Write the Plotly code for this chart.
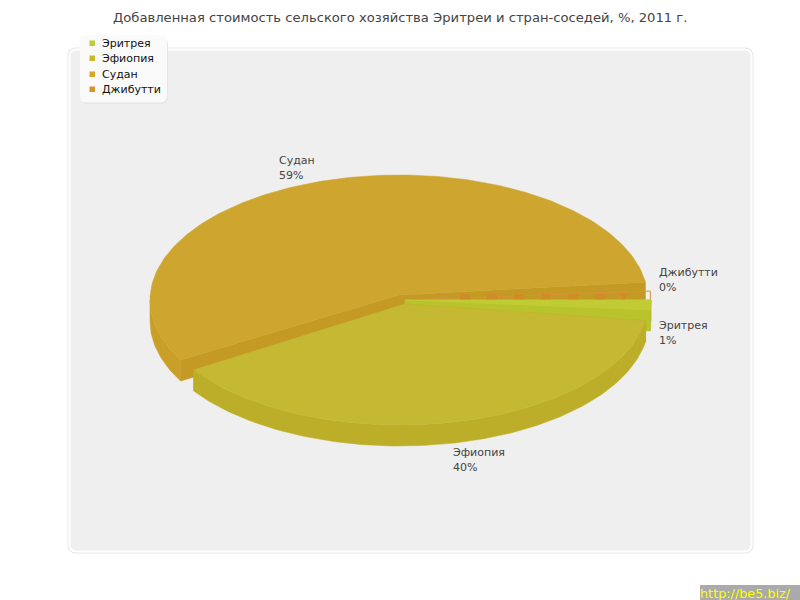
import math
import plotly.graph_objects as go

title = "Добавленная стоимость сельского хозяйства Эритреи и стран-соседей, %, 2011 г."
categories = ["Эритрея", "Эфиопия", "Судан", "Джибутти"]
# slice sizes as drawn in the picture (% of the circle); the slices are pulled apart,
# so the gaps between their rim ends are listed too
eritrea_share = 1.28
gap_eritrea_ethiopia = 1.36
ethiopia_share = 37.9
gap_ethiopia_sudan = 1.48
sudan_share = 55.7
djibouti_rim_angle = -4.1
percent_labels = ["1%", "40%", "59%", "0%"]
legend_colors = ["#c2cb32", "#c9b82a", "#d8a72a", "#d8922a"]
top_colors = ["#c1cc35", "#c5b832", "#cea52f", "#d8922a"]
side_colors = ["#b7c12b", "#bcae28", "#c99f27", "#d08a25"]
wall_colors = ["#b9c32c", "#bcae28", "#c49a25", "#d08a25"]

APEX = [(405, 300), (405, 304), (399, 295), (405, 300)]
RIM = [(402, 300), (400, 300), (399, 300), (402, 300)]
RX, RY, DEPTH = 249, 125, 21
LABEL_POS = [(659, 325), (453, 452), (279, 160), (659, 272)]

fig = go.Figure()


def rim(c, a0, a1):
    n = max(2, int(abs(a1 - a0)) + 2)
    pts = [a0 + (a1 - a0) * i / (n - 1) for i in range(n)]
    return ([c[0] + RX * math.cos(math.radians(a)) for a in pts],
            [c[1] + RY * math.sin(math.radians(a)) for a in pts])


def poly(xs, ys, color):
    fig.add_trace(go.Scatter(x=xs + xs[:1], y=ys + ys[:1], mode="lines", fill="toself",
                             fillcolor=color, line=dict(color=color, width=0.5),
                             hoverinfo="skip", showlegend=False))


def top(i, a0, a1):
    x, y = rim(RIM[i], a0, a1)
    poly([APEX[i][0]] + x, [APEX[i][1]] + y, top_colors[i])


def wedge(i, a0, a1):
    c = APEX[i]
    # cut faces
    for a in (a0, a1):
        rx, ry = rim(RIM[i], a, a)
        poly([c[0], rx[0], rx[0], c[0]], [c[1], ry[0], ry[0] + DEPTH, c[1] + DEPTH], wall_colors[i])
    # outer side (only the front half of the rim shows)
    lo, hi = max(a0, 0), min(a1, 180)
    if hi > lo:
        x, y = rim(RIM[i], lo, hi)
        poly(x + x[::-1], y + [v + DEPTH for v in y[::-1]], side_colors[i])
    top(i, a0, a1)


# angle limits from the shares, clockwise on screen from 3 o'clock
er0, er1 = 0.0, eritrea_share * 3.6
et0 = er1 + gap_eritrea_ethiopia * 3.6
et1 = et0 + ethiopia_share * 3.6
su0 = et1 + gap_ethiopia_sudan * 3.6
su1 = su0 + sudan_share * 3.6

# Sudan first, then Eritrea, then Ethiopia overlapping it
wedge(2, su0, su1)
wedge(0, er0, er1)

# Djibouti: nearly empty slice, only an outline and dashes show through
c = APEX[3]
xe, ye = rim(RIM[3], djibouti_rim_angle, djibouti_rim_angle)
xe, ye = xe[0], ye[0]
fig.add_trace(go.Scatter(x=[c[0], xe, xe], y=[c[1], ye, c[1]], mode="lines",
                         line=dict(color="#d8923a", width=1), hoverinfo="skip", showlegend=False))
fig.add_trace(go.Scatter(x=[c[0] + 55, xe - 25], y=[c[1] - 3, c[1] - 3], mode="lines",
                         line=dict(color="#d28a28", width=6, dash="10px,17px"),
                         opacity=0.8, hoverinfo="skip", showlegend=False))
top(0, er0, er1)
wedge(1, et0, et1)


def rrect(x0, y0, x1, y1, r):
    return (f"M{x0+r},{y0} L{x1-r},{y0} Q{x1},{y0} {x1},{y0+r} L{x1},{y1-r} Q{x1},{y1} {x1-r},{y1} "
            f"L{x0+r},{y1} Q{x0},{y1} {x0},{y1-r} L{x0},{y0+r} Q{x0},{y0} {x0+r},{y0} Z")


shapes = [
    dict(type="path", path=rrect(68, 48, 753, 553, 8), fillcolor="#efefef",
         line=dict(color="#e6e6e6", width=1), layer="below"),
    dict(type="path", path=rrect(69.5, 49.5, 751.5, 551.5, 7), fillcolor="#efefef",
         line=dict(color="#ffffff", width=2), layer="below"),
    dict(type="path", path=rrect(81, 37, 168, 104, 7), fillcolor="#e6e6e6",
         line=dict(width=0), layer="above"),
    dict(type="path", path=rrect(80, 35, 167, 102.5, 7), fillcolor="#fafafa",
         line=dict(width=0), layer="above"),
    dict(type="rect", x0=700, x1=800, y0=585, y1=600, fillcolor="#aaaaaa",
         line=dict(width=0), layer="above"),
]

annotations = [dict(x=400, y=17, text=title, showarrow=False, xanchor="center", yanchor="middle",
                    font=dict(family="DejaVu Sans", size=13.15, color="#444444"))]
for name, pct, (lx, ly) in zip(categories, percent_labels, LABEL_POS):
    for text, yy in ((name, ly), (pct, ly + 15)):
        annotations.append(dict(x=lx, y=yy, text=text, showarrow=False, xanchor="left",
                                yanchor="middle", xshift=-2,
                                font=dict(family="DejaVu Sans", size=11, color="#444444")))
legend_y = [43, 58, 74, 89]
for name, col, ly in zip(categories, legend_colors, legend_y):
    annotations.append(dict(x=102, y=ly, text=name, showarrow=False, xanchor="left", yanchor="middle",
                            xshift=-2, font=dict(family="DejaVu Sans", size=11, color="#111111")))
    shapes.append(dict(type="rect", x0=89.5, x1=95, y0=ly - 2.5, y1=ly + 3, fillcolor=col,
                       line=dict(width=0), layer="above"))
annotations.append(dict(x=700, y=593, text="http://be5.biz/", showarrow=False, xanchor="left",
                        yanchor="middle", xshift=-2,
                        font=dict(family="DejaVu Sans", size=12.8, color="#ffff00")))

fig.update_layout(
    width=800, height=600, margin=dict(l=0, r=0, t=0, b=0), autosize=False,
    paper_bgcolor="#ffffff", plot_bgcolor="#ffffff", showlegend=False,
    xaxis=dict(range=[0, 800], visible=False, fixedrange=True),
    yaxis=dict(range=[600, 0], visible=False, fixedrange=True),
    shapes=shapes, annotations=annotations,
)
fig.write_html("out.html", config={"displayModeBar": False},
               post_script="document.body.style.margin='0';document.body.style.overflow='hidden';")
